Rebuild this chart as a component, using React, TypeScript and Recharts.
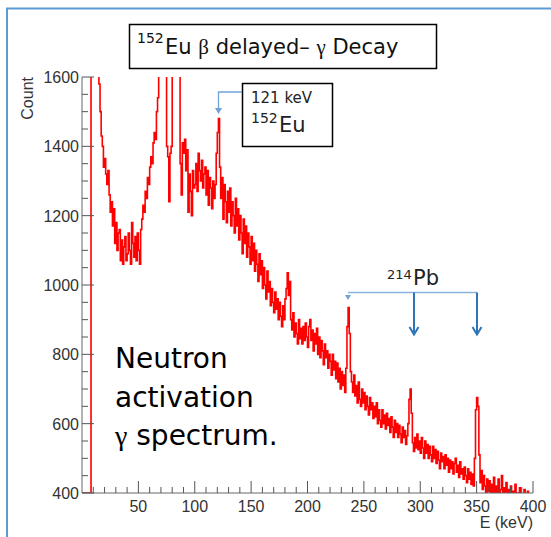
import React from 'react';
import { LineChart, Line, XAxis, YAxis } from 'recharts';

// Histogram: bin start energy (keV) = BIN_START + index * BIN_WIDTH
const BIN_START = 0;
const BIN_WIDTH = 1;
const X_MAX = 400;

// Counts per 1 keV bin (values beyond the frame are clipped)
const counts: number[] = [
  400, 400, 400, 400, 400, 400, 400, 400, 2000, 2000,
  2000, 2000, 2000, 2000, 1640, 1580, 1500, 1430, 1400, 1340,
  1365, 1320, 1290, 1330, 1260, 1210, 1240, 1170, 1220, 1120,
  1180, 1100, 1150, 1160, 1070, 1130, 1060, 1110, 1140, 1070,
  1090, 1150, 1100, 1060, 1180, 1120, 1080, 1140, 1070, 1150,
  1100, 1060, 1160, 1190, 1230, 1210, 1270, 1250, 1310, 1290,
  1340, 1370, 1350, 1410, 1440, 1420, 1500, 1540, 1640, 2400,
  3000, 2800, 2400, 2000, 1750, 1400, 1370, 1240, 1380, 1400,
  1700, 3000, 2600, 2200, 1900, 1700, 1650, 1350, 1260, 1410,
  1380, 1420, 1330, 1390, 1210, 1320, 1270, 1200, 1330, 1280,
  1290, 1350, 1270, 1380, 1330, 1300, 1360, 1280, 1320, 1340,
  1260, 1330, 1230, 1310, 1280, 1220, 1300, 1250, 1290, 1380,
  1440, 1480, 1340, 1250, 1310, 1190, 1290, 1240, 1180, 1270,
  1210, 1280, 1170, 1240, 1200, 1150, 1250, 1170, 1220, 1130,
  1200, 1150, 1090, 1190, 1120, 1170, 1080, 1150, 1110, 1060,
  1140, 1070, 1120, 1040, 1100, 1060, 1010, 1090, 1030, 1070,
  990, 1050, 1000, 960, 1040, 980, 1010, 940, 990, 950,
  920, 980, 930, 960, 900, 950, 910, 880, 940, 900,
  960, 990, 1035, 970, 1010, 900, 870, 920, 850, 890,
  860, 830, 900, 845, 875, 830, 880, 840, 890, 850,
  820, 880, 900, 840, 870, 810, 860, 830, 875, 800,
  850, 790, 840, 810, 770, 830, 790, 810, 760, 800,
  780, 740, 800, 755, 780, 730, 775, 720, 760, 700,
  750, 710, 740, 690, 760, 880, 935, 860, 750, 720,
  690, 740, 680, 710, 660, 720, 670, 650, 700, 660,
  690, 640, 680, 650, 625, 675, 640, 660, 615, 650,
  620, 660, 600, 640, 610, 590, 640, 600, 625, 585,
  630, 595, 615, 575, 620, 590, 560, 610, 575, 600,
  560, 595, 570, 545, 590, 560, 580, 540, 565, 600,
  670, 700, 630, 545, 520, 560, 530, 570, 525, 550,
  515, 560, 530, 500, 550, 515, 540, 500, 535, 510,
  490, 535, 500, 525, 485, 520, 495, 470, 515, 490,
  505, 470, 510, 480, 500, 460, 495, 470, 490, 455,
  485, 500, 460, 480, 445, 490, 455, 470, 440, 475,
  450, 430, 470, 440, 460, 425, 455, 420, 500, 640,
  675, 650, 510, 430, 465, 410, 450, 420, 395, 440,
  405, 435, 390, 425, 400, 445, 385, 420, 395, 440,
  380, 410, 450, 385, 415, 375, 430, 390, 410, 370,
  420, 385, 405, 370, 425, 380, 400, 365, 415, 375,
  395, 370, 410, 380, 360, 405, 375, 395, 365, 390,
];

const xTicks = [10, 20, 30, 40, 50, 60, 70, 80, 90, 100, 110, 120, 130, 140, 150, 160, 170, 180, 190, 200,
  210, 220, 230, 240, 250, 260, 270, 280, 290, 300, 310, 320, 330, 340, 350, 360, 370, 380, 390, 400];
const xLabelled = [50, 100, 150, 200, 250, 300, 350, 400];
const yTicks = [400, 450, 500, 550, 600, 650, 700, 750, 800, 850, 900, 950, 1000, 1050, 1100, 1150,
  1200, 1250, 1300, 1350, 1400, 1450, 1500, 1550, 1600];
const yLabelled = [400, 600, 800, 1000, 1200, 1400, 1600];

const rows = counts.map((c, i) => ({ e: BIN_START + i * BIN_WIDTH, c }));
rows.push({ e: X_MAX, c: counts[counts.length - 1] });

const TICK_FONT = '"Liberation Sans", Arial, sans-serif';
const TEXT_FONT = '"DejaVu Sans", Verdana, sans-serif';
const GREEK_FONT = '"Liberation Serif", "DejaVu Serif", serif';

const XTick = (props: any) => {
  const { x, y, payload } = props;
  const v = payload.value;
  const major = xLabelled.includes(v);
  return (
    <g>
      <line x1={x} y1={y} x2={x} y2={y - (major ? 12 : 6)} stroke="#555" strokeWidth={1} />
      {major && (
        <text x={x} y={y + 19} textAnchor="middle" fontSize={16} fontFamily={TICK_FONT} fill="#333">
          {v}
        </text>
      )}
    </g>
  );
};

const YTick = (props: any) => {
  const { x, y, payload } = props;
  const v = payload.value;
  const major = yLabelled.includes(v);
  return (
    <g>
      <line x1={x} y1={y} x2={x + (major ? 12 : 6)} y2={y} stroke="#555" strokeWidth={1} />
      {major && (
        <text x={x - 3} y={y + 6} textAnchor="end" fontSize={16} fontFamily={TICK_FONT} fill="#333">
          {v}
        </text>
      )}
    </g>
  );
};

export default function App() {
  return (
    <div style={{ position: 'absolute', left: 0, top: 0, width: 551, height: 537, background: '#fff' }}>
      <LineChart width={551} height={537} data={rows} margin={{ top: 77, right: 18, bottom: 14, left: 22 }}>
        <XAxis
          xAxisId="b"
          dataKey="e"
          type="number"
          domain={[0, X_MAX]}
          ticks={xTicks}
          interval={0}
          tickSize={0}
          tickMargin={0}
          tickLine={false}
          tick={<XTick />}
          axisLine={{ stroke: '#666' }}
          height={30}
          allowDataOverflow
        />
        <XAxis
          xAxisId="t"
          orientation="top"
          dataKey="e"
          type="number"
          domain={[0, X_MAX]}
          tick={false}
          tickLine={false}
          axisLine={{ stroke: '#aaa' }}
          height={0}
        />
        <YAxis
          yAxisId="l"
          type="number"
          domain={[400, 1600]}
          ticks={yTicks}
          interval={0}
          tickSize={0}
          tickMargin={0}
          tickLine={false}
          tick={<YTick />}
          axisLine={{ stroke: '#666' }}
          width={60}
          allowDataOverflow
        />
        <YAxis
          yAxisId="r"
          orientation="right"
          type="number"
          domain={[400, 1600]}
          tick={false}
          tickLine={false}
          axisLine={{ stroke: '#aaa' }}
          width={0}
        />
        <Line
          xAxisId="b"
          yAxisId="l"
          dataKey="c"
          type="stepAfter"
          stroke="#ff0000"
          strokeWidth={1.6}
          dot={false}
          activeDot={false}
          isAnimationActive={false}
        />
      </LineChart>
      <svg
        width={551}
        height={537}
        style={{ position: 'absolute', left: 0, top: 0, pointerEvents: 'none' }}
      >
        {/* outer light-blue border */}
        <rect x={7} y={8.5} width={580} height={560} fill="none" stroke="#5b9bd5" strokeWidth={2} />

        {/* title box */}
        <rect x={129.5} y={24.5} width={307} height={44} fill="#fff" stroke="#000" strokeWidth={1.5} />
        <text x={137} y={43} fontSize={14} fontFamily={TEXT_FONT} fill="#111">152</text>
        <text x={165} y={54} fontSize={21} fontFamily={TEXT_FONT} fill="#111">
          Eu <tspan fontFamily={GREEK_FONT}>β</tspan> delayed– <tspan fontFamily={GREEK_FONT}>γ</tspan> Decay
        </text>

        {/* axis titles */}
        <text x={33} y={77} fontSize={16} fontFamily={TICK_FONT} fill="#333" textAnchor="end" transform="rotate(-90 33 77)">
          Count
        </text>
        <text x={533} y={528} fontSize={16} fontFamily={TICK_FONT} fill="#333" textAnchor="end">
          E (keV)
        </text>

        {/* 121 keV annotation */}
        <rect x={242.5} y={83.5} width={90} height={63} fill="#fff" stroke="#000" strokeWidth={1.5} />
        <text x={251} y={103} fontSize={15} fontFamily={TEXT_FONT} fill="#222">121 keV</text>
        <text x={251} y={123} fontSize={14} fontFamily={TEXT_FONT} fill="#222">152</text>
        <text x={279} y={132} fontSize={21} fontFamily={TEXT_FONT} fill="#222">Eu</text>
        <path d="M242 92 H218.5 V109" fill="none" stroke="#6fa3d8" strokeWidth={1.3} />
        <path d="M215 108 L222 108 L218.5 114 Z" fill="#6fa3d8" />

        {/* 214Pb annotation */}
        <text x={387} y={279} fontSize={13} fontFamily={TEXT_FONT} fill="#222">214</text>
        <text x={413} y={285} fontSize={21} fontFamily={TEXT_FONT} fill="#222">Pb</text>
        <path d="M348 292.5 H477" fill="none" stroke="#8ab4e0" strokeWidth={1.3} />
        <path d="M345 295 L351 295 L348 300 Z" fill="#6fa3d8" />
        <path d="M414 292.5 V334" fill="none" stroke="#2e75b6" strokeWidth={2} />
        <path d="M409.5 327 L414 334.5 L418.5 327" fill="none" stroke="#2e75b6" strokeWidth={2} />
        <path d="M477 292.5 V334" fill="none" stroke="#2e75b6" strokeWidth={2} />
        <path d="M472.5 327 L477 334.5 L481.5 327" fill="none" stroke="#2e75b6" strokeWidth={2} />

        {/* description */}
        <text x={115} y={368} fontSize={28} fontFamily={TEXT_FONT} fill="#000">Neutron</text>
        <text x={115} y={407} fontSize={28} fontFamily={TEXT_FONT} fill="#000">activation</text>
        <text x={115} y={445} fontSize={28} fontFamily={TEXT_FONT} fill="#000">
          <tspan fontFamily={GREEK_FONT}>γ</tspan> spectrum.
        </text>
      </svg>
    </div>
  );
}
